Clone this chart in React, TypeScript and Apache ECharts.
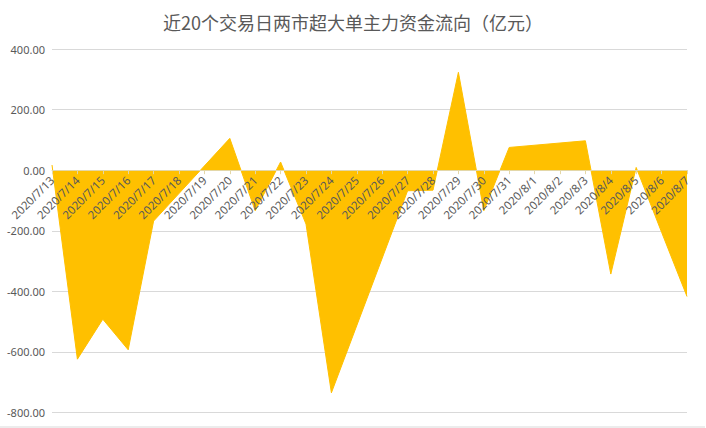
import React, { useEffect, useRef } from "react";
import * as echarts from "echarts";

const TITLE = "近20个交易日两市超大单主力资金流向（亿元）";

const categories: string[] = [
  "2020/7/13", "2020/7/14", "2020/7/15", "2020/7/16", "2020/7/17",
  "2020/7/18", "2020/7/19", "2020/7/20", "2020/7/21", "2020/7/22",
  "2020/7/23", "2020/7/24", "2020/7/25", "2020/7/26", "2020/7/27",
  "2020/7/28", "2020/7/29", "2020/7/30", "2020/7/31", "2020/8/1",
  "2020/8/2", "2020/8/3", "2020/8/4", "2020/8/5", "2020/8/6", "2020/8/7",
];

// null = non-trading day (weekend), connected across like a date axis
const flows: (number | null)[] = [
  17, -624, -492, -593, -168,
  null, null, 105, -134, 27,
  -178, -735, null, null, -68,
  -66, 323, -134, 75, null,
  null, 97, -343, 9, -205, -417,
];

const Y_MIN = -800;
const Y_MAX = 400;
const Y_STEP = 200;

const GRID_TOP = 49;
const GRID_BOTTOM = 15.5;
const CHART_H = 428;

export default function App() {
  const ref = useRef<HTMLDivElement>(null);

  useEffect(() => {
    if (!ref.current) return;
    const chart = echarts.init(ref.current, undefined, { renderer: "svg" });
    const plotH = CHART_H - GRID_TOP - GRID_BOTTOM;
    const zeroFromBottom = (plotH * (0 - Y_MIN)) / (Y_MAX - Y_MIN);
    chart.setOption({
      animation: false,
      backgroundColor: "#ffffff",
      title: {
        text: TITLE,
        left: "center",
        top: 8,
        textStyle: {
          fontFamily: "Noto Sans CJK SC",
          fontSize: 18,
          fontWeight: "normal",
          color: "#595959",
        },
      },
      grid: {
        left: 52,
        right: 19,
        top: GRID_TOP,
        bottom: GRID_BOTTOM,
        containLabel: false,
        outerBoundsMode: "none",
      },
      xAxis: {
        type: "category",
        data: categories,
        boundaryGap: false,
        position: "bottom",
        offset: -zeroFromBottom,
        z: 4,
        axisLine: { onZero: false, lineStyle: { color: "#e3d7a8" } },
        axisTick: { show: true, length: 4, lineStyle: { color: "#e3d7a8" } },
        axisLabel: {
          interval: 0,
          rotate: 45,
          margin: 8,
          fontFamily: "Noto Sans",
          fontSize: 11.5,
          color: "#595959",
        },
        splitLine: { show: false },
      },
      yAxis: {
        type: "value",
        min: Y_MIN,
        max: Y_MAX,
        interval: Y_STEP,
        axisLine: { show: false },
        axisTick: { show: false },
        axisLabel: {
          margin: 7,
          fontFamily: "Noto Sans",
          fontSize: 11,
          color: "#595959",
          formatter: (v: number) => v.toFixed(2),
        },
        splitLine: { lineStyle: { color: "#d9d9d9", width: 1 } },
      },
      series: [
        {
          type: "line",
          data: flows,
          connectNulls: true,
          symbol: "none",
          lineStyle: { color: "#FFC000", width: 1 },
          areaStyle: { color: "#FFC000", opacity: 1 },
          z: 3,
        },
      ],
      graphic: [
        {
          type: "line",
          shape: { x1: 0, y1: 427, x2: 705, y2: 427 },
          style: { stroke: "#d9d9d9", lineWidth: 1 },
        },
      ],
    });
    return () => chart.dispose();
  }, []);

  return (
    <div
      ref={ref}
      style={{ position: "absolute", left: 0, top: 0, width: 706, height: 428 }}
    />
  );
}
